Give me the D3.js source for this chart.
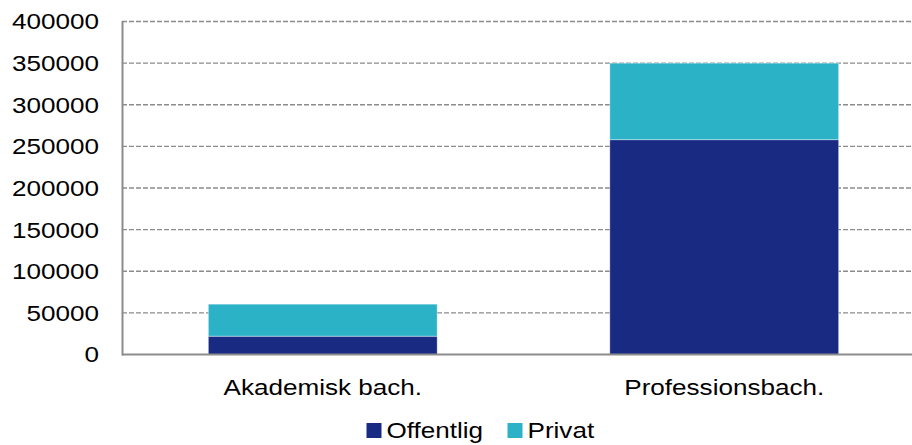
<!DOCTYPE html>
<html>
<head>
<meta charset="utf-8">
<script src="https://cdn.jsdelivr.net/npm/d3@7"></script>
<style>
  body { margin: 0; background: #fff; }
  svg { display: block; font-family: "Liberation Sans", Arial, sans-serif; }
</style>
</head>
<body>
<svg width="912" height="445"></svg>
<script>
const categories = ["Akademisk bach.", "Professionsbach."];
const seriesNames = ["Offentlig", "Privat"];
const offentlig = [22000, 258000];
const privat = [38500, 92000];
const yTicks = [0, 50000, 100000, 150000, 200000, 250000, 300000, 350000, 400000];
const colors = ["#192a82", "#2cb2c7"];

const svg = d3.select("svg");
const stretch = 1.17; // text in the original is drawn a bit wide
const fontSize = 22.3;

const x = d3.scaleBand().domain(categories).range([122, 925]).paddingInner(0.43).paddingOuter(0.215);
const y = d3.scaleLinear().domain([0, 400000]).range([354.5, 21.5]);

const rows = categories.map((c, i) => ({ cat: c, Offentlig: offentlig[i], Privat: privat[i] }));
const stacked = d3.stack().keys(seriesNames)(rows);

function label(g, tx, ty, text, anchor) {
  g.append("g")
    .attr("transform", `translate(${tx},${ty}) scale(${stretch},1)`)
    .append("text")
    .attr("text-anchor", anchor)
    .attr("font-size", fontSize)
    .attr("fill", "#000")
    .text(text);
}

// gridlines
svg.append("g")
  .selectAll("line")
  .data(yTicks.filter(d => d > 0))
  .join("line")
  .attr("x1", 122).attr("x2", 912)
  .attr("y1", d => y(d)).attr("y2", d => y(d))
  .attr("stroke", "#8c8c8c")
  .attr("stroke-width", 1.3)
  .attr("stroke-dasharray", "5,2");

// bars
svg.append("g")
  .selectAll("g")
  .data(stacked)
  .join("g")
  .attr("fill", (d, i) => colors[i])
  .selectAll("rect")
  .data(d => d)
  .join("rect")
  .attr("x", d => x(d.data.cat))
  .attr("width", x.bandwidth())
  .attr("y", d => y(d[1]))
  .attr("height", d => y(d[0]) - y(d[1]))
  .attr("stroke", "#ffffff")
  .attr("stroke-opacity", 0.5)
  .attr("stroke-width", 0.8);

// axis lines
svg.append("line")
  .attr("x1", 122.5).attr("x2", 122.5).attr("y1", 21).attr("y2", 355.5)
  .attr("stroke", "#8c8c8c").attr("stroke-width", 2);
svg.append("line")
  .attr("x1", 122).attr("x2", 912).attr("y1", 354.5).attr("y2", 354.5)
  .attr("stroke", "#8c8c8c").attr("stroke-width", 2);

// y tick labels
const yl = svg.append("g");
yTicks.forEach(t => label(yl, 99, y(t) + 7.9, String(t), "end"));

// category labels
const xl = svg.append("g");
categories.forEach(c => label(xl, x(c) + x.bandwidth() / 2, 395, c, "middle"));

// legend
const legend = svg.append("g");
const legendX = [366.5, 507.5];
seriesNames.forEach((s, i) => {
  legend.append("rect")
    .attr("x", legendX[i]).attr("y", 423)
    .attr("width", 15).attr("height", 15)
    .attr("fill", colors[i]);
  label(legend, legendX[i] + 20, 438, s, "start");
});
</script>
</body>
</html>
